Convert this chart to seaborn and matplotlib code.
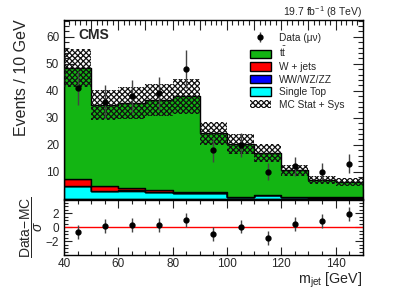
import numpy as np
import pandas as pd
import seaborn as sns
import matplotlib
matplotlib.use("Agg")
import matplotlib.pyplot as plt
from matplotlib.ticker import MultipleLocator
from matplotlib.patches import Patch

# ---------------- data ----------------
bin_edges = [40, 50, 60, 70, 80, 90, 100, 110, 120, 130, 140, 150]
bin_centers = [45, 55, 65, 75, 85, 95, 105, 115, 125, 135, 145]
ttbar = [41.0, 30.0, 31.6, 33.4, 35.5, 21.8, 19.5, 15.7, 9.8, 6.4, 5.7]
wjets = [2.5, 1.85, 0.8, 0.6, 0.3, 0.3, 0.1, 0.1, 0.1, 0.1, 0.1]
diboson = [0.05, 0.05, 0.05, 0.05, 0.05, 0.05, 0.05, 0.05, 0.05, 0.05, 0.05]
single_top = [4.8, 2.85, 3.0, 2.6, 2.1, 2.1, 0.5, 1.2, 0.5, 0.4, 0.4]
mc_unc = [7.0, 5.5, 5.8, 6.0, 6.5, 4.3, 3.7, 3.3, 2.2, 1.5, 1.5]
data_counts = [41, 36, 38, 39, 48, 18, 20, 10, 12, 10, 13]
pulls = [-0.72, 0.19, 0.33, 0.29, 1.06, -0.97, 0.1, -1.5, 0.52, 0.96, 1.93]
pull_err = [1.0] * 11

proc_names = ["t$\\bar{\\rm t}$", "W + jets", "WW/WZ/ZZ", "Single Top"]
proc_colors = ["#13b513", "#ff0000", "#0000ff", "#00ffff"]

# ---------------- style ----------------
sns.set_theme(style="ticks")
plt.rcParams["font.family"] = ["Liberation Sans", "DejaVu Sans"]
plt.rcParams["mathtext.fontset"] = "custom"
plt.rcParams["mathtext.rm"] = "Liberation Sans"
plt.rcParams["mathtext.it"] = "Liberation Sans:italic"
plt.rcParams["mathtext.sf"] = "Liberation Sans"
plt.rcParams["hatch.linewidth"] = 0.9

HATCH = "x" * 6
W, H = 407, 292
fig = plt.figure(figsize=(W / 100, H / 100), dpi=100)
L, R = 64 / W, 362.7 / W
ax = fig.add_axes([L, 1 - 198.7 / H, R - L, (198.7 - 19.5) / H])
axr = fig.add_axes([L, 1 - 255 / H, R - L, (255 - 199.5) / H])

# stacked MC
rows = []
for name, vals in zip(proc_names, [ttbar, wjets, diboson, single_top]):
    for c, v in zip(bin_centers, vals):
        rows.append({"m": c, "w": v, "proc": name})
df = pd.DataFrame(rows)
sns.histplot(data=df, x="m", weights="w", hue="proc", hue_order=proc_names,
             bins=bin_edges, multiple="stack", element="step",
             palette=dict(zip(proc_names, proc_colors)), alpha=1,
             edgecolor="black", linewidth=1.0, legend=False, ax=ax)

total = np.array(ttbar) + np.array(wjets) + np.array(diboson) + np.array(single_top)
unc = np.array(mc_unc)
ax.bar(bin_centers, 2 * unc, bottom=total - unc, width=10, facecolor="none",
       edgecolor="#111111", hatch=HATCH, linewidth=0, zorder=3)

# data
derr = np.sqrt(np.array(data_counts, dtype=float))
eb = ax.errorbar(bin_centers, data_counts, yerr=derr, fmt="o", color="black",
                 ecolor="#444444", markersize=3.5, elinewidth=1, capsize=0, zorder=5)

ax.set_xlim(40, 150)
ax.set_ylim(0, 66.4)
ax.set_xlabel("")
ax.set_ylabel("Events / 10 GeV", fontsize=11.5, loc="top")
ax.yaxis.set_label_coords(-0.118, 1.0)
ax.set_yticks([10, 20, 30, 40, 50, 60])
ax.yaxis.set_minor_locator(MultipleLocator(2))
ax.xaxis.set_major_locator(MultipleLocator(10))
ax.xaxis.set_minor_locator(MultipleLocator(2))
ax.tick_params(axis="both", which="both", direction="in", top=True, right=True,
               labelsize=8.5, width=0.8, color="#222222")
ax.tick_params(which="major", length=7)
ax.tick_params(which="minor", length=3.5)
ax.tick_params(axis="x", labelbottom=False)
for s in ax.spines.values():
    s.set_linewidth(1.0)
    s.set_color("black")

ax.text(0.047, 0.955, "CMS", transform=ax.transAxes, fontsize=10,
        fontweight="bold", va="top", ha="left")
fig.text(R, 1 - 12 / H, "19.7 fb$^{-1}$ (8 TeV)", ha="right", va="center", fontsize=7.5)

handles = [eb] + [Patch(facecolor=c, edgecolor="black", linewidth=1.0) for c in proc_colors] + \
          [Patch(facecolor="white", edgecolor="#111111", hatch=HATCH, linewidth=0)]
labels = ["Data (\u03bc\u03bd)"] + proc_names + ["MC Stat + Sys"]
ax.legend(handles, labels, loc="upper left", bbox_to_anchor=(0.622, 0.925),
          frameon=False, fontsize=7.3, handlelength=2.1, handleheight=0.9,
          labelspacing=0.25, borderpad=0.0, borderaxespad=0.0, handletextpad=0.8)

# ratio panel
axr.axhline(0, color="red", linewidth=1.0, zorder=1)
axr.errorbar(bin_centers, pulls, yerr=pull_err, fmt="o", color="black",
             ecolor="#444444", markersize=3.5, elinewidth=1, capsize=0, zorder=5)
axr.set_xlim(40, 150)
axr.set_ylim(-4, 4)
axr.set_yticks([-2, 0, 2])
axr.yaxis.set_minor_locator(MultipleLocator(0.5))
axr.xaxis.set_major_locator(MultipleLocator(20))
axr.xaxis.set_minor_locator(MultipleLocator(5))
axr.tick_params(axis="both", which="both", direction="in", top=True, right=True,
                labelsize=8.5, width=0.8, color="#222222")
axr.tick_params(axis="x", pad=2)
axr.tick_params(which="major", length=6)
axr.tick_params(which="minor", length=3)
for s in axr.spines.values():
    s.set_linewidth(1.0)
    s.set_color("black")
axr.set_ylabel(r"$\dfrac{\mathrm{Data\!-\!MC}}{\sigma}$", fontsize=10)
axr.yaxis.set_label_coords(-0.062, 0.5)
fig.text(R, 1 - 284 / H, r"m$_{\rm jet}$ [GeV]", fontsize=10.3, ha="right", va="baseline")

fig.savefig("out.png", dpi=100)
